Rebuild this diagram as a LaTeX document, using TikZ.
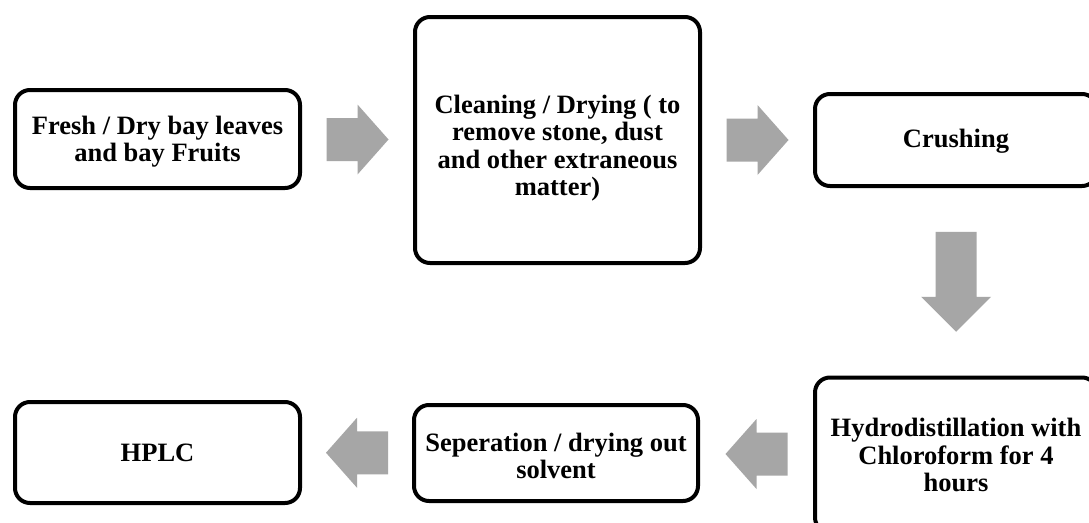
\documentclass[tikz,border=0pt]{standalone}
\usepackage{fontspec}
\setmainfont{Liberation Serif}
\usetikzlibrary{calc}
\definecolor{arrowgray}{HTML}{A6A6A6}
\newcommand\mytightlines{\lineskiplimit=-100pt\relax\lineskip=0pt\relax}
\tikzset{
  stepbox/.style={draw=black, line width=4pt, rounded corners=15pt, fill=white, inner sep=0pt},
  steptext/.style={align=center, inner sep=0pt,
    font={\fontsize{26.5}{27.3}\selectfont\bfseries\mytightlines}},
  harrow/.pic={\fill[arrowgray] (-31,-21.5) -- (0,-21.5) -- (0,-35) -- (31,0) -- (0,35) -- (0,21.5) -- (-31,21.5) -- cycle;},
  varrow/.pic={\fill[arrowgray] (-50,-20.5) -- (15,-20.5) -- (15,-35) -- (50,0) -- (15,35) -- (15,20.5) -- (-50,20.5) -- cycle;}
}
\begin{document}
\begin{tikzpicture}[x=1pt,y=-1pt]
\useasboundingbox (0,0) rectangle (1089,522);
\clip (0,0) rectangle (1089,522);
\fill[white] (0,0) rectangle (1089,522);
% boxes
\node[stepbox, minimum width=285pt, minimum height=98pt] (fresh) at (157.5,139) {};
\node[stepbox, minimum width=285pt, minimum height=246pt] (clean) at (557.5,140) {};
\node[stepbox, minimum width=282pt, minimum height=92pt] (crush) at (956,140) {};
\node[stepbox, minimum width=282pt, minimum height=155pt] (hydro) at (956,455) {};
\node[stepbox, minimum width=284pt, minimum height=96pt] (sep) at (556,453) {};
\node[stepbox, minimum width=285pt, minimum height=101pt] (hplc) at (157.5,452.5) {};
% texts
\node[steptext, yshift=-3pt] (fresh-t) at (fresh) {Fresh / Dry bay leaves\\and bay Fruits};
\node[steptext, yshift=-8pt] (clean-t) at (clean) {Cleaning / Drying ( to\\remove stone, dust\\and other extraneous\\matter)};
\node[steptext, yshift=-1pt] (crush-t) at (crush) {Crushing};
\node[steptext] (hydro-t) at (hydro) {Hydrodistillation with\\Chloroform for 4\\hours};
\node[steptext, yshift=-3pt] (sep-t) at (sep) {Seperation / drying out\\solvent};
\node[steptext] (hplc-t) at (hplc) {HPLC};
% block arrows
\pic at ($(fresh.east)!0.5!(clean.west)$) {harrow};
\pic at ($(clean.east)!0.5!(crush.west)$) {harrow};
\pic[rotate=-90] at ($(crush.south)!0.5!(hydro.north)$) {varrow};
\pic[rotate=180] at ($(hydro.west)!0.5!(sep.east)$) {harrow};
\pic[rotate=180] at ($(sep.west)!0.5!(hplc.east)$) {harrow};
\end{tikzpicture}
\end{document}
